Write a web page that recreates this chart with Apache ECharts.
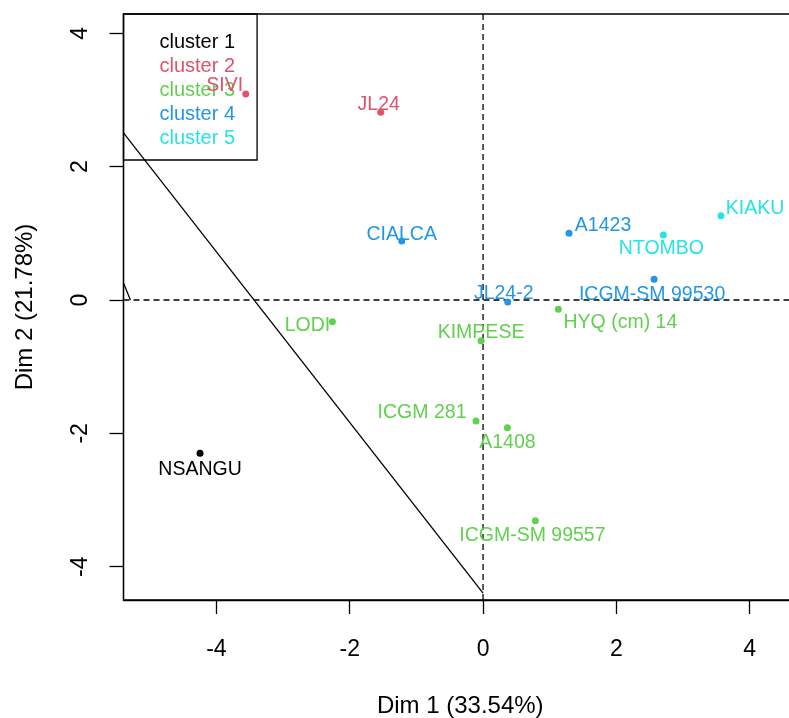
<!DOCTYPE html>
<html>
<head>
<meta charset="utf-8">
<script src="https://cdn.jsdelivr.net/npm/echarts@6/dist/echarts.min.js"></script>
<style>html,body{margin:0;padding:0;background:#fff;}#c{width:789px;height:718px;}</style>
</head>
<body>
<div id="c"></div>
<script>
// ---- data ----
const names = ['NSANGU','SIVI','JL24','LODI','KIMPESE','HYQ (cm) 14','ICGM 281','A1408','ICGM-SM 99557','CIALCA','A1423','JL24-2','ICGM-SM 99530','KIAKU','NTOMBO'];
const dim1 = [-4.246,-3.56,-1.535,-2.26,-0.03,1.13,-0.105,0.365,0.785,-1.22,1.29,0.37,2.566,3.57,2.705];
const dim2 = [-2.30,3.09,2.816,-0.325,-0.61,-0.14,-1.815,-1.915,-3.31,0.885,1.0,-0.03,0.31,1.265,0.975];
const cluster = [1,2,2,3,3,3,3,3,3,4,4,4,4,5,5];
const clusterNames = ['cluster 1','cluster 2','cluster 3','cluster 4','cluster 5'];
const xTicks = [-4,-2,0,2,4];
const yTicks = [-4,-2,0,2,4];
const xName = 'Dim 1 (33.54%)';
const yName = 'Dim 2 (21.78%)';
const boundaryX = [-5.394, 0];
const boundaryY = [2.506, -4.396];
const stubX = [-5.394, -5.29];
const stubY = [0.255, 0];
const xRange = [-5.394, 4.71];
const yRange = [-4.50, 4.29];

// ---- style ----
const clusterColors = ['#000000','#DF536B','#61D04F','#2297E6','#28E2E5'];
const labelOffsets = {
  'NSANGU':[0,16],'SIVI':[-21,-8],'JL24':[-2,-8],'LODI':[-25,4],'KIMPESE':[0,-8],
  'HYQ (cm) 14':[62,13],'ICGM 281':[-54,-8],'A1408':[0,15],'ICGM-SM 99557':[-3,15],
  'CIALCA':[0,-6],'A1423':[34,-8],'JL24-2':[-4,-8],'ICGM-SM 99530':[-2,15],
  'KIAKU':[34,-7],'NTOMBO':[-2,14]
};
const FONT = 'Liberation Sans, Arial, sans-serif';

const series = [];
series.push({type:'line', data: boundaryX.map((x,i)=>[x,boundaryY[i]]), symbol:'none', silent:true,
  lineStyle:{color:'#000', width:1.3}, z:1});
series.push({type:'line', data: stubX.map((x,i)=>[x,stubY[i]]), symbol:'none', silent:true,
  lineStyle:{color:'#000', width:1.3}, z:1});
series.push({type:'line', data: [[0,yRange[0]],[0,yRange[1]]], symbol:'none', silent:true,
  lineStyle:{color:'#000', width:1.3, type:[6,4]}, z:1});
series.push({type:'line', data: [[xRange[0],0],[xRange[1],0]], symbol:'none', silent:true,
  lineStyle:{color:'#000', width:1.3, type:[6,4]}, z:1});

clusterNames.forEach((cn, ci) => {
  const data = [];
  names.forEach((n, i) => {
    if (cluster[i] === ci + 1) {
      data.push({name:n, value:[dim1[i], dim2[i]], label:{offset: labelOffsets[n]}});
    }
  });
  series.push({
    type:'scatter', name: cn, data, symbol:'circle', symbolSize:7,
    itemStyle:{color: clusterColors[ci], opacity:1},
    label:{show:true, position:'inside', formatter:'{b}', color: clusterColors[ci],
      fontFamily: FONT, fontSize:19.5},
    z:5
  });
});

const chart = echarts.init(document.getElementById('c'), null, {renderer:'canvas'});
chart.setOption({
  animation:false,
  backgroundColor:'#fff',
  grid:{left:123.5, top:14, width:673.5, height:586, containLabel:false, outerBoundsMode:'none',
    show:true, borderColor:'#000', borderWidth:1.3, backgroundColor:'transparent'},
  legend:{
    left:123.5, top:14, orient:'vertical', icon:'none', itemWidth:0, itemHeight:0, itemGap:4,
    padding:[18,22,12,31], borderColor:'#000', borderWidth:1.3, backgroundColor:'transparent',
    selectedMode:false, z:2,
    textStyle:{fontFamily:FONT, fontSize:20},
    data: clusterNames.map((n,i)=>({name:n, textStyle:{color:clusterColors[i]}}))
  },
  xAxis:{
    type:'value', min:xRange[0], max:xRange[1],
    name:xName, nameLocation:'middle', nameGap:94,
    nameTextStyle:{fontFamily:FONT, fontSize:24, color:'#000'},
    axisLine:{show:true, onZero:false, lineStyle:{color:'#000', width:1.3}},
    axisTick:{show:true, inside:false, length:14, customValues:xTicks, lineStyle:{color:'#000', width:1.3}},
    axisLabel:{customValues:xTicks, margin:38, fontFamily:FONT, fontSize:23, color:'#000'},
    splitLine:{show:false}
  },
  yAxis:{
    type:'value', min:yRange[0], max:yRange[1],
    name:yName, nameLocation:'middle', nameGap:86, nameRotate:90,
    nameTextStyle:{fontFamily:FONT, fontSize:24, color:'#000'},
    axisLine:{show:true, onZero:false, lineStyle:{color:'#000', width:1.3}},
    axisTick:{show:true, inside:false, length:14, customValues:yTicks, lineStyle:{color:'#000', width:1.3}},
    axisLabel:{customValues:yTicks, rotate:90, margin:31, fontFamily:FONT, fontSize:23, color:'#000'},
    splitLine:{show:false}
  },
  series
});
</script>
</body>
</html>
